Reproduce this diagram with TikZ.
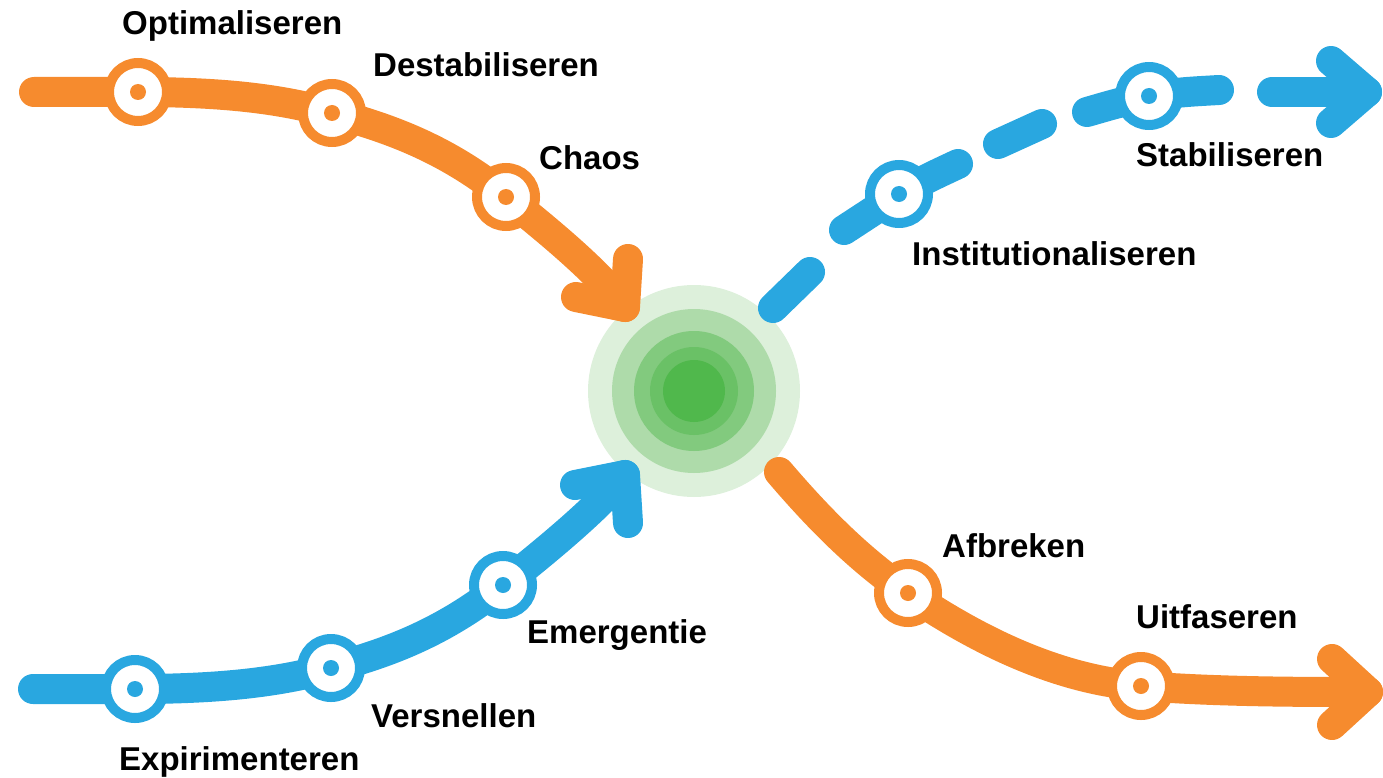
\documentclass[tikz,border=0pt]{standalone}
\usepackage{fontspec}
\setmainfont{Liberation Sans}
\definecolor{orng}{RGB}{246,139,46}
\definecolor{blu}{RGB}{41,167,224}
\definecolor{gA}{RGB}{221,240,219}
\definecolor{gB}{RGB}{174,219,170}
\definecolor{gC}{RGB}{130,202,126}
\definecolor{gD}{RGB}{106,193,102}
\definecolor{gE}{RGB}{80,184,76}
\tikzset{
  track/.style={line width=30pt, line cap=round, line join=round},
  stopmark/.style={circle, inner sep=0pt, minimum size=58pt, fill=white, draw=#1, line width=10pt,
    path picture={\fill[#1] (path picture bounding box.center) circle (8pt);}},
  lbl/.style={anchor=base west, inner sep=0pt, font=\fontsize{33}{40}\selectfont\bfseries}
}
\begin{document}
\begin{tikzpicture}[x=1pt,y=-1pt]
\useasboundingbox (0,0) rectangle (1383,778);
% centre
\coordinate (ctr) at (694,391);
\fill[gA] (ctr) circle (106pt);
\fill[gB] (ctr) circle (82pt);
\fill[gC] (ctr) circle (60pt);
\fill[gD] (ctr) circle (44pt);
\fill[gE] (ctr) circle (31pt);
% coordinates: top orange
\coordinate (ot0) at (34,92);
\coordinate (po1) at (138,92);
\coordinate (po2) at (332,113);
\coordinate (po3) at (506,197);
\coordinate (otip) at (625,307);
\coordinate (oarmA) at (628,259);
\coordinate (oarmB) at (576,297);
% bottom blue
\coordinate (bt0) at (33,689);
\coordinate (pb1) at (135,689);
\coordinate (pb2) at (331,668);
\coordinate (pb3) at (503,585);
\coordinate (btip) at (625,475);
\coordinate (barmA) at (628,523);
\coordinate (barmB) at (575,485);
% dashed blue
\coordinate (d1a) at (773,308);
\coordinate (d1b) at (810,272);
\coordinate (d2a) at (844,230);
\coordinate (pi1) at (899,194);
\coordinate (d2b) at (958,164);
\coordinate (d3a) at (998,144);
\coordinate (d3b) at (1042,124);
\coordinate (d4a) at (1087,112);
\coordinate (ps1) at (1149,96);
\coordinate (d4b) at (1219,90);
\coordinate (d5a) at (1272,92);
\coordinate (stip) at (1367,92);
\coordinate (sarmA) at (1331,61);
\coordinate (sarmB) at (1331,123);
% bottom orange
\coordinate (at0) at (779,472);
\coordinate (pa1) at (908,593);
\coordinate (pu1) at (1141,686);
\coordinate (utip) at (1368,692);
\coordinate (uarmA) at (1332,659);
\coordinate (uarmB) at (1332,725);
% tracks
\draw[track, orng] (ot0) -- (po1) .. controls (240,92) and (290,102) .. (po2)
  .. controls (410,133) and (460,160) .. (po3) .. controls (560,240) and (600,275) .. (otip);
\draw[track, orng] (oarmA) -- (otip) -- (oarmB);
\draw[track, blu] (bt0) -- (pb1) .. controls (237,689) and (289,679) .. (pb2)
  .. controls (409,648) and (457,621) .. (pb3) .. controls (557,542) and (598,507) .. (btip);
\draw[track, blu] (barmA) -- (btip) -- (barmB);
\draw[track, blu] (d1a) -- (d1b);
\draw[track, blu] (d2a) .. controls (870,213) .. (pi1) .. controls (928,178) .. (d2b);
\draw[track, blu] (d3a) -- (d3b);
\draw[track, blu] (d4a) .. controls (1118,103) .. (ps1) .. controls (1184,92) .. (d4b);
\draw[track, blu] (d5a) -- (stip);
\draw[track, blu] (sarmA) -- (stip) -- (sarmB);
\draw[track, orng] (at0) .. controls (820,520) and (860,560) .. (pa1)
  .. controls (980,642) and (1060,680) .. (pu1) .. controls (1220,692) and (1300,692) .. (utip);
\draw[track, orng] (uarmA) -- (utip) -- (uarmB);
% stops
\node[stopmark=orng] (o1) at (po1) {};
\node[stopmark=orng] (o2) at (po2) {};
\node[stopmark=orng] (o3) at (po3) {};
\node[stopmark=blu] (b1) at (pb1) {};
\node[stopmark=blu] (b2) at (pb2) {};
\node[stopmark=blu] (b3) at (pb3) {};
\node[stopmark=blu] (i1) at (pi1) {};
\node[stopmark=blu] (s1) at (ps1) {};
\node[stopmark=orng] (a1) at (pa1) {};
\node[stopmark=orng] (u1) at (pu1) {};
% labels
\node[lbl] (lo1) at (122,35) {Optimaliseren};
\node[lbl] (lo2) at (373,77) {Destabiliseren};
\node[lbl] (lo3) at (539,170) {Chaos};
\node[lbl] (ls1) at (1136,167) {Stabiliseren};
\node[lbl] (li1) at (912,265) {Institutionaliseren};
\node[lbl] (la1) at (942,557) {Afbreken};
\node[lbl] (lu1) at (1136,628) {Uitfaseren};
\node[lbl] (lb3) at (527,643) {Emergentie};
\node[lbl] (lb2) at (371,727) {Versnellen};
\node[lbl] (lb1) at (119,770) {Expirimenteren};
\end{tikzpicture}
\end{document}
